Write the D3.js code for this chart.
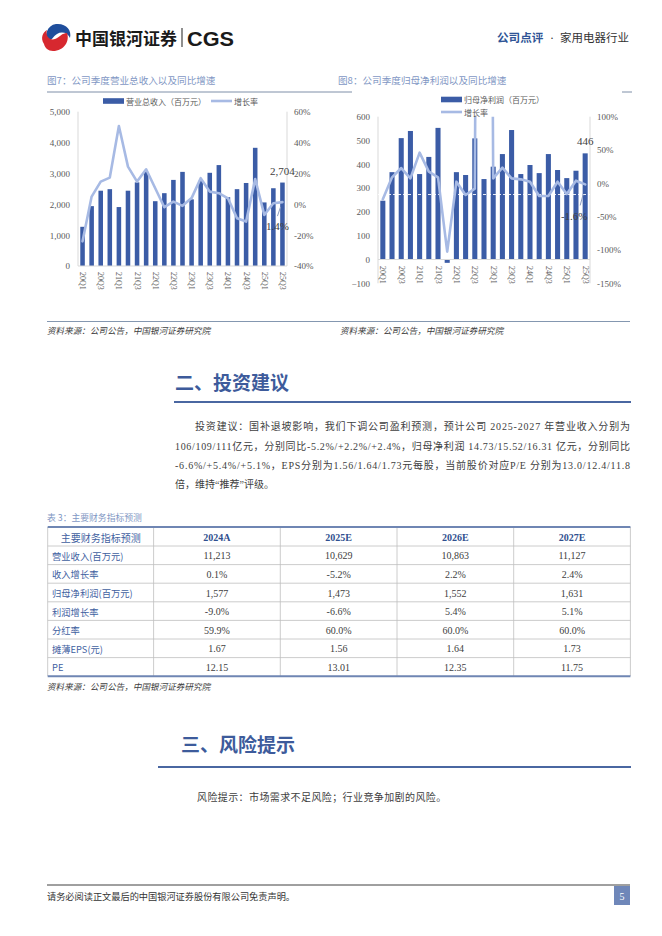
<!DOCTYPE html>
<html><head><meta charset="utf-8">
<script src="https://cdn.jsdelivr.net/npm/d3@7"></script>
<style>body{margin:0;background:#fff} svg{display:block}</style>
</head><body><svg id="page" width="662" height="936"></svg>
<script>
// ---------------- data ----------------
const quarters = ["20Q1","20Q2","20Q3","20Q4","21Q1","21Q2","21Q3","21Q4","22Q1","22Q2","22Q3","22Q4",
  "23Q1","23Q2","23Q3","23Q4","24Q1","24Q2","24Q3","24Q4","25Q1","25Q2","25Q3"];
const revenue = [1270,1940,2440,2490,1910,2440,2710,3050,2100,2360,2790,3050,2160,2760,3020,3270,2230,2490,2690,3830,2060,2520,2704];
const revenueGrowth = [-24,5,14.7,17.3,50.7,24.4,14.7,22.7,10.4,-1.9,1.7,-1,4,16.9,8.2,7.2,3.9,-9,-11.2,16.4,-6.9,0.7,1.4];
const profit = [247,367,510,540,359,431,553,-14,367,355,509,338,390,443,544,359,397,363,443,376,342,373,446];
const profitGrowth = [-24,9,23,7.5,46,17.5,9,-102.5,2.5,-17.5,-8,2514,7.5,23.5,7.5,6,2.5,-19,-19,2.5,-16,4,-1.6];
const revTicks = [0,1000,2000,3000,4000,5000];
const revGrowthTicks = [-40,-20,0,20,40,60];
const profitTicks = [-100,0,100,200,300,400,500,600];
const profitGrowthTicks = [-150,-100,-50,0,50,100];
const profitRefLine = 273;
const revLabels = ["2,704","1.4%"];
const profitLabels = ["446","-1.6%"];

const tableHeader = ["主要财务指标预测","2024A","2025E","2026E","2027E"];
const tableRowLabels = ["营业收入(百万元)","收入增长率","归母净利润(百万元)","利润增长率","分红率","摊薄EPS(元)","PE"];
const tableValues = [
  ["11,213","10,629","10,863","11,127"],
  ["0.1%","-5.2%","2.2%","2.4%"],
  ["1,577","1,473","1,552","1,631"],
  ["-9.0%","-6.6%","5.4%","5.1%"],
  ["59.9%","60.0%","60.0%","60.0%"],
  ["1.67","1.56","1.64","1.73"],
  ["12.15","13.01","12.35","11.75"]
];
const paragraph = [
  "投资建议：国补退坡影响，我们下调公司盈利预测，预计公司 2025-2027 年营业收入分别为",
  "106/109/111亿元，分别同比-5.2%/+2.2%/+2.4%，归母净利润 14.73/15.52/16.31 亿元，分别同比",
  "-6.6%/+5.4%/+5.1%，EPS分别为1.56/1.64/1.73元每股，当前股价对应P/E  分别为13.0/12.4/11.8",
  "倍，维持“推荐”评级。"
];

// ---------------- styles ----------------
const SERIF = "'Liberation Serif','Noto Sans CJK SC',serif";
const CJK = "'Noto Sans CJK SC','Liberation Serif',sans-serif";
const BAR = "#3b5ca6", LINE = "#a7bae4", AXIS = "#d9d9d9", TICK = "#595959";
const BLUE_T = "#7f97c4", HEAD = "#3d5b9b";

const svg = d3.select("#page");
svg.append("rect").attr("width",662).attr("height",936).attr("fill","#fff");

// ---------------- header ----------------
const logo = svg.append("g");
logo.append("path").attr("d","M56,24 C66,23 72,30 70,38 C68,33 62,31 57,34 C53,36 52,41 47,42 C44,36 47,25 56,24 Z").attr("fill","#1f4e9c");
logo.append("path").attr("d","M44,44 C40,38 43,32 47,30 C45,36 50,41 55,39 C60,37 62,33 67,33 C70,41 64,51 53,51 C48,51 45,48 44,44 Z").attr("fill","#d7282f");
logo.append("text").attr("x",75).attr("y",44.5).attr("font-family",CJK).attr("font-weight","bold")
  .attr("font-size",16.8).attr("fill","#1a1a1a").attr("textLength",102).attr("lengthAdjust","spacingAndGlyphs").text("中国银河证券");
logo.append("line").attr("x1",182).attr("x2",182).attr("y1",28).attr("y2",47).attr("stroke","#444").attr("stroke-width",1.2);
logo.append("text").attr("x",187).attr("y",45.5).attr("font-family","'Liberation Sans',Arial,sans-serif").attr("font-weight","bold")
  .attr("font-size",20).attr("fill","#1a1a1a").attr("textLength",47).attr("lengthAdjust","spacingAndGlyphs").text("CGS");
svg.append("text").attr("x",497).attr("y",42).attr("font-family",CJK).attr("font-weight","bold").attr("font-size",11.6)
  .attr("fill","#2f5496").text("公司点评");
svg.append("text").attr("x",552).attr("y",41.5).attr("text-anchor","middle").attr("font-family",SERIF).attr("font-size",12).attr("fill","#333").text("·");
svg.append("text").attr("x",560).attr("y",42).attr("font-family",CJK).attr("font-size",11.5).attr("fill","#333").text("家用电器行业");

// chart titles
svg.append("text").attr("x",47).attr("y",84).attr("font-family",CJK).attr("font-size",9.6).attr("fill",BLUE_T)
  .text("图7：公司季度营业总收入以及同比增速");
svg.append("text").attr("x",338).attr("y",84).attr("font-family",CJK).attr("font-size",9.6).attr("fill",BLUE_T)
  .text("图8：公司季度归母净利润以及同比增速");
svg.append("line").attr("x1",47).attr("x2",352).attr("y1",92).attr("y2",92).attr("stroke","#7f8fa8").attr("stroke-width",1);
svg.append("line").attr("x1",622).attr("x2",632).attr("y1",92).attr("y2",92).attr("stroke","#7f8fa8").attr("stroke-width",1);

// ---------------- chart builder ----------------
function drawChart(cfg){
  const g = svg.append("g");
  const x = d3.scaleBand().domain(quarters).range([cfg.x0,cfg.x1]).paddingInner(cfg.padIn).paddingOuter(cfg.padOut);
  const yL = d3.scaleLinear().domain(cfg.leftDomain).range([cfg.yBottom,cfg.yTop]);
  const yR = d3.scaleLinear().domain(cfg.rightDomain).range([cfg.yBottom,cfg.yTop]);
  const cx = q => x(q) + x.bandwidth()/2;

  g.append("line").attr("x1",cfg.x0).attr("x2",cfg.x0).attr("y1",cfg.yTop).attr("y2",cfg.yBottom).attr("stroke",AXIS);
  g.append("line").attr("x1",cfg.x1).attr("x2",cfg.x1).attr("y1",cfg.yTop).attr("y2",cfg.yBottom).attr("stroke",AXIS);

  g.selectAll("rect.bar").data(cfg.bars).join("rect").attr("class","bar")
    .attr("x",(d,i)=>x(quarters[i])).attr("width",x.bandwidth())
    .attr("y",d=>Math.min(yL(d),yL(0))).attr("height",d=>Math.abs(yL(d)-yL(0)))
    .attr("fill",BAR);

  g.append("line").attr("x1",cfg.x0).attr("x2",cfg.x1).attr("y1",yL(0)).attr("y2",yL(0)).attr("stroke",AXIS);

  if (cfg.refLine !== undefined){
    g.append("line").attr("x1",cfg.x0).attr("x2",cfg.x1).attr("y1",yL(cfg.refLine)).attr("y2",yL(cfg.refLine))
      .attr("stroke","#fff").attr("stroke-width",1).attr("stroke-dasharray","3,2").attr("opacity",0.9);
  }

  const clipId = "clip"+cfg.id;
  svg.append("clipPath").attr("id",clipId).append("rect")
    .attr("x",cfg.x0).attr("y",cfg.yTop).attr("width",cfg.x1-cfg.x0).attr("height",cfg.yBottom-cfg.yTop);
  g.append("path").datum(cfg.line).attr("clip-path",`url(#${clipId})`)
    .attr("d",d3.line().x((d,i)=>cx(quarters[i])).y(d=>yR(d)))
    .attr("fill","none").attr("stroke",LINE).attr("stroke-width",2.6).attr("stroke-linejoin","round").attr("stroke-linecap","round");

  const la = g.append("g").attr("transform",`translate(${cfg.x0},0)`)
    .call(d3.axisLeft(yL).tickValues(cfg.leftTicks).tickSize(0).tickPadding(8).tickFormat(d3.format(",")));
  la.select(".domain").remove();
  la.selectAll("text").attr("font-family",SERIF).attr("font-size",9).attr("fill",TICK);
  const ra = g.append("g").attr("transform",`translate(${cfg.x1},0)`)
    .call(d3.axisRight(yR).tickValues(cfg.rightTicks).tickSize(0).tickPadding(7).tickFormat(d=>d+"%"));
  ra.select(".domain").remove();
  ra.selectAll("text").attr("font-family",SERIF).attr("font-size",9).attr("fill",TICK);

  g.selectAll("text.xl").data(quarters.filter((q,i)=>i%2===0)).join("text").attr("class","xl")
    .attr("transform",d=>`translate(${cx(d)},${cfg.xLabelY}) rotate(90)`)
    .attr("text-anchor","start").attr("dominant-baseline","central")
    .attr("font-family",SERIF).attr("font-size",8).attr("fill",TICK).text(d=>d);

  const last = quarters.length-1, lq = quarters[last];
  g.append("text").attr("x",cx(lq)).attr("y",yL(cfg.bars[last])-8).attr("text-anchor","middle")
    .attr("font-family",SERIF).attr("font-size",11).attr("fill","#404040").text(cfg.labels[0]);
  const px = cx(lq), py = yR(cfg.line[last]);
  g.append("path").attr("d",`M${px-2},${py+cfg.lead[0]} L${px-5},${py+cfg.lead[1]}`)
    .attr("stroke","#8d9cc0").attr("stroke-width",1).attr("fill","none");
  g.append("text").attr("x",px+cfg.gl[0]).attr("y",py+cfg.gl[1]).attr("text-anchor","middle")
    .attr("font-family",SERIF).attr("font-size",11).attr("fill","#404040").text(cfg.labels[1]);
  return g;
}

drawChart({id:"L", x0:78, x1:287, yTop:111.7, yBottom:266, padIn:0.5, padOut:0.25,
  leftDomain:[0,5000], rightDomain:[-40,60], leftTicks:revTicks, rightTicks:revGrowthTicks,
  bars:revenue, line:revenueGrowth, xLabelY:272, labels:revLabels, gl:[-5,28], lead:[5,14]});
drawChart({id:"R", x0:378, x1:590, yTop:116.7, yBottom:283.3, padIn:0.45, padOut:0.25,
  leftDomain:[-100,600], rightDomain:[-150,100], leftTicks:profitTicks, rightTicks:profitGrowthTicks,
  bars:profit, line:profitGrowth, xLabelY:266, labels:profitLabels, refLine:profitRefLine, gl:[-11,36], lead:[10,21]});

function legend(xBox, yRow, label, type){
  if(type==="bar") svg.append("rect").attr("x",xBox).attr("y",yRow-2.8).attr("width",21).attr("height",5.6).attr("fill",BAR);
  else svg.append("line").attr("x1",xBox).attr("x2",xBox+21).attr("y1",yRow).attr("y2",yRow).attr("stroke",LINE).attr("stroke-width",2.6);
  svg.append("text").attr("x",xBox+23).attr("y",yRow).attr("dominant-baseline","central")
    .attr("font-family",CJK).attr("font-size",8).attr("fill",TICK).text(label);
}
legend(103,101,"营业总收入（百万元）","bar");
legend(211,101,"增长率","line");
legend(441,99.5,"归母净利润（百万元）","bar");
legend(441,112,"增长率","line");

svg.append("line").attr("x1",47).attr("x2",630).attr("y1",321.5).attr("y2",321.5).attr("stroke","#8497b0").attr("stroke-width",1);
[[47,"资料来源：公司公告，中国银河证券研究院"],[340,"资料来源：公司公告，中国银河证券研究院"]].forEach(([sx,t])=>{
  svg.append("text").attr("x",sx).attr("y",334).attr("font-family",CJK).attr("font-size",8.6).attr("fill","#404040")
    .attr("transform",`skewX(-12)`).attr("dx",334*Math.tan(12*Math.PI/180)).text(t);
});

// ---------------- section 2 ----------------
svg.append("text").attr("x",175).attr("y",390).attr("font-family",CJK).attr("font-weight","bold").attr("font-size",19)
  .attr("fill",HEAD).text("二、投资建议");
svg.append("line").attr("x1",174).attr("x2",631).attr("y1",402).attr("y2",402).attr("stroke","#4a67a1").attr("stroke-width",2.2);
const paraX = [195,175,175,175], paraY = [430,450,469,488];
paragraph.forEach((t,i)=>{
  const tx = svg.append("text").attr("x",paraX[i]).attr("y",paraY[i]).attr("font-family",SERIF)
    .attr("font-size",10).attr("fill","#404040").text(t);
  if(i<3) tx.attr("textLength",630-paraX[i]).attr("lengthAdjust","spacing");
});

// ---------------- table ----------------
svg.append("text").attr("x",47).attr("y",521).attr("font-family",CJK).attr("font-size",8.8).attr("fill",BLUE_T).text("表 3：主要财务指标预测");
const colX = [47.7,153.6,280.3,397,513.7,630.4];
const rowY = [527,546]; for(let i=1;i<=tableRowLabels.length;i++) rowY.push(546+i*18.6);
const tg = svg.append("g");
rowY.forEach((y,i)=>{
  if(i===0||i===rowY.length-1) return;
  tg.append("line").attr("x1",colX[0]).attr("x2",colX[5]).attr("y1",y).attr("y2",y).attr("stroke","#bfbfbf").attr("stroke-width",0.8);
});
colX.forEach(x=>tg.append("line").attr("x1",x).attr("x2",x).attr("y1",rowY[0]).attr("y2",rowY[rowY.length-1]).attr("stroke","#bfbfbf").attr("stroke-width",0.8));
tg.append("line").attr("x1",colX[0]).attr("x2",colX[5]).attr("y1",rowY[0]).attr("y2",rowY[0]).attr("stroke","#6f86b3").attr("stroke-width",2);
tg.append("line").attr("x1",colX[0]).attr("x2",colX[5]).attr("y1",rowY[rowY.length-1]).attr("y2",rowY[rowY.length-1]).attr("stroke","#6f86b3").attr("stroke-width",2);
tableHeader.forEach((h,j)=>{
  tg.append("text").attr("x",(colX[j]+colX[j+1])/2).attr("y",(rowY[0]+rowY[1])/2+0.5).attr("text-anchor","middle")
    .attr("dominant-baseline","central").attr("font-family",j===0?CJK:SERIF).attr("font-weight",j===0?"normal":"bold")
    .attr("font-size",10).attr("fill",j===0?"#3f5f9f":"#2f4f8f").text(h);
});
tableRowLabels.forEach((lab,i)=>{
  const yc = (rowY[i+1]+rowY[i+2])/2+0.5;
  tg.append("text").attr("x",52).attr("y",yc).attr("dominant-baseline","central").attr("font-family",CJK)
    .attr("font-size",9.3).attr("fill","#3f5f9f").text(lab);
  tableValues[i].forEach((v,j)=>{
    tg.append("text").attr("x",(colX[j+1]+colX[j+2])/2).attr("y",yc).attr("text-anchor","middle").attr("dominant-baseline","central")
      .attr("font-family",SERIF).attr("font-size",10).attr("fill","#404040").text(v);
  });
});
svg.append("text").attr("x",47).attr("y",690).attr("font-family",CJK).attr("font-size",8.6).attr("fill","#404040")
  .attr("transform","skewX(-12)").attr("dx",690*Math.tan(12*Math.PI/180)).text("资料来源：公司公告，中国银河证券研究院");

// ---------------- section 3 ----------------
svg.append("text").attr("x",181).attr("y",752).attr("font-family",CJK).attr("font-weight","bold").attr("font-size",19)
  .attr("fill",HEAD).text("三、风险提示");
svg.append("line").attr("x1",158).attr("x2",631).attr("y1",767).attr("y2",767).attr("stroke","#4a67a1").attr("stroke-width",2.2);
svg.append("text").attr("x",197).attr("y",801).attr("font-family",CJK).attr("font-size",10).attr("letter-spacing",0.4)
  .attr("fill","#404040").text("风险提示：市场需求不足风险；行业竞争加剧的风险。");

// ---------------- footer ----------------
svg.append("line").attr("x1",47).attr("x2",630).attr("y1",885).attr("y2",885).attr("stroke","#404040").attr("stroke-width",1);
svg.append("text").attr("x",47).attr("y",900).attr("font-family",CJK).attr("font-size",9.2).attr("fill","#333")
  .text("请务必阅读正文最后的中国银河证券股份有限公司免责声明。");
svg.append("rect").attr("x",614).attr("y",886).attr("width",16).attr("height",19).attr("fill","#6f87b9");
svg.append("text").attr("x",622).attr("y",896).attr("text-anchor","middle").attr("dominant-baseline","central")
  .attr("font-family",SERIF).attr("font-size",10).attr("fill","#fff").text("5");
</script></body></html>
